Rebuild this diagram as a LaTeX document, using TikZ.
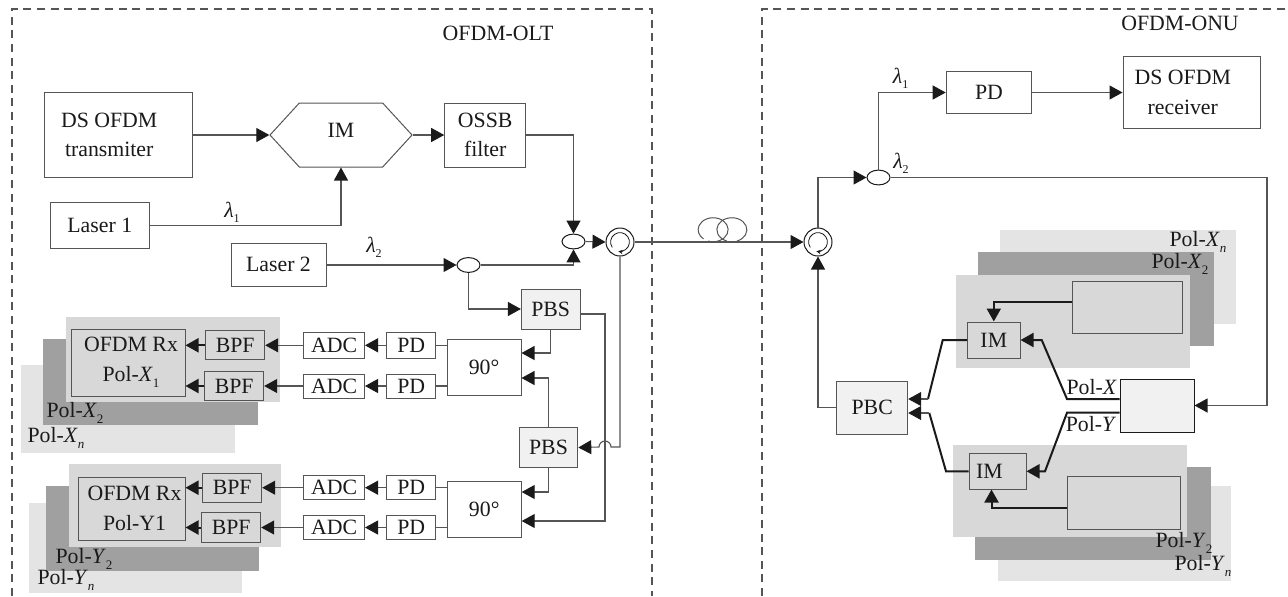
\documentclass[tikz,border=0pt]{standalone}
\usepackage{xcolor}
\usepackage{fontspec}
\setmainfont{Liberation Serif}
\usepackage{tikz}
\usetikzlibrary{arrows.meta,calc,positioning,shapes.geometric,shapes.symbols}
\definecolor{OpticLine}{HTML}{555555}
\definecolor{OpticInk}{HTML}{1A1A1A}
\definecolor{PlateFront}{HTML}{D8D8D8}
\definecolor{PlateMid}{HTML}{A0A0A0}
\definecolor{PlateBack}{HTML}{E4E4E4}
\definecolor{PaleBox}{HTML}{F1F1F1}
\newcommand{\polsub}[2]{Pol-\textit{#1}\raisebox{-3pt}{\fontsize{6.5}{7}\selectfont #2}}
\newcommand{\lamsub}[1]{\textit{λ}\raisebox{-2.5pt}{\fontsize{6}{7}\selectfont #1}}
\newcommand{\circmark}[1]{\draw[-{Stealth[length=2.2pt,width=2.2pt]},line width=.4pt,draw=OpticInk]
  ([shift={(215:4.7pt)}]#1.center) arc[start angle=215,end angle=-100,radius=4.7pt];}

\begin{document}
\begin{tikzpicture}[
  x=.5pt,y=-.5pt,
  every node/.style={text=OpticInk,font=\fontsize{10.9}{14.8}\selectfont},
  box/.style={draw=OpticLine,line width=.5pt,fill=white,inner sep=0pt,align=center},
  palebox/.style={box,fill=PaleBox},
  greybox/.style={box,fill=PlateFront},
  pdbox/.style={box,minimum width=24.6pt,minimum height=12pt},
  adcbox/.style={box,minimum width=30.4pt,minimum height=12pt},
  bpfbox/.style={greybox,minimum width=29.5pt,minimum height=14.6pt},
  phasebox/.style={box,minimum width=37pt,minimum height=28pt},
  pbsbox/.style={palebox,minimum width=29.3pt,minimum height=20pt},
  coupler/.style={draw=OpticInk,line width=.5pt,fill=white,ellipse,inner sep=0pt,
    minimum width=11.5pt,minimum height=7.4pt},
  circulator/.style={draw=OpticInk,line width=.5pt,fill=white,circle,inner sep=0pt,minimum size=14pt},
  frame/.style={draw=OpticLine,line width=.7pt,dash pattern=on 4pt off 2.8pt},
  link/.style={draw=OpticLine,line width=.55pt},
  arrow/.style={link,-{Triangle[length=6.5pt,width=7pt,color=OpticInk]}},
  heavy/.style={draw=OpticInk,line width=1pt},
  heavyarrow/.style={heavy,-{Triangle[length=6.5pt,width=7pt]}},
  plateA/.style={fill=PlateFront},
  plateB/.style={fill=PlateMid},
  plateC/.style={fill=PlateBack}
]
\useasboundingbox (0,0) rectangle (1288,596);
% dashed housings
\draw[frame] (12,596) -- (12,9) -- (652,9) -- (652,596);
\draw[frame] (762,596) -- (762,9) -- (1286,9);
\node (olt) at (498,33) {OFDM-OLT};
\node (onu) at (1180,23) {OFDM-ONU};

% stacked plates
\fill[plateC] (21,365) rectangle (235,453);
\fill[plateB] (43,339) rectangle (258,425);
\fill[plateA] (66,317) rectangle (279.5,402);
\fill[plateC] (29,503) rectangle (242,593);
\fill[plateB] (46,486) rectangle (259,571);
\fill[plateA] (69,464) rectangle (281,547);
\fill[plateC] (1000,230) rectangle (1235.7,324);
\fill[plateB] (977.7,252) rectangle (1213.7,346);
\fill[plateA] (956,275) rectangle (1190,367.7);
\fill[plateC] (998,486) rectangle (1231,581);
\fill[plateB] (975,466.7) rectangle (1210.7,560);
\fill[plateA] (953,444.7) rectangle (1187,537);

% transmitter side
\node[box,minimum width=73.8pt,minimum height=42.3pt] (txofdm) at (118.2,134.7)
  {\hspace*{-9pt}DS OFDM\\\hspace*{-9pt}transmiter};
\node[signal,signal to=east and west,signal pointer angle=95,draw=OpticLine,line width=.5pt,
  fill=white,inner sep=0pt,text depth=5pt,minimum width=71pt,minimum height=32pt] (imod) at (341,135) {IM};
\node[box,minimum width=40.5pt,minimum height=32pt] (ossb) at (485.2,135) {OSSB\\filter};
\node[box,minimum width=49.8pt,minimum height=23.2pt] (laserA) at (99.8,225.2) {Laser 1};
\node[box,minimum width=47.5pt,minimum height=21.5pt] (laserB) at (278.5,264.5) {Laser 2};
\node (lamA) at (232,212) {\lamsub{1}};
\node (lamB) at (374,247) {\lamsub{2}};
\node[coupler] (splitA) at (468.5,265) {};
\node[coupler] (mergeA) at (573.5,241.5) {};
\node[circulator] (circA) at (620,242) {};
\circmark{circA}

% coherent receiver rows
\node[pbsbox] (pbsA) at (550.7,309) {PBS};
\node[pbsbox] (pbsB) at (548.5,447.5) {PBS};
\node[phasebox] (phaseA) at (484,367.2) {90°};
\node[phasebox] (phaseB) at (484.2,509) {90°};
\node[pdbox,minimum height=13.3pt] (pdA) at (411.3,345.3) {PD};
\node[pdbox] (pdB) at (411.3,386) {PD};
\node[pdbox] (pdC) at (411.3,487.7) {PD};
\node[pdbox] (pdD) at (411.3,527.5) {PD};
\node[adcbox,minimum height=13.3pt,left=10.6pt of pdA] (adcA) {ADC};
\node[adcbox,left=10.6pt of pdB] (adcB) {ADC};
\node[adcbox,left=10.6pt of pdC] (adcC) {ADC};
\node[adcbox,left=10.6pt of pdD] (adcD) {ADC};
\node[bpfbox,left=19pt of adcA] (bpfA) {BPF};
\node[bpfbox,left=19.5pt of adcB] (bpfB) {BPF};
\node[bpfbox,left=20.5pt of adcC] (bpfC) {BPF};
\node[bpfbox,left=21pt of adcD] (bpfD) {BPF};
\node[greybox,minimum width=57pt,minimum height=33.5pt] (rxX) at (128,362.5)
  {\hspace*{3pt}OFDM Rx\\\hspace*{3pt}Pol-\textit{X}\raisebox{-3pt}{\fontsize{6.5}{7}\selectfont 1}};
\node[greybox,minimum width=53.5pt,minimum height=31.5pt] (rxY) at (131.5,508.5)
  {\hspace*{3pt}OFDM Rx\\\hspace*{3pt}Pol-Y1};
\node (polXb) at (75,413) {\polsub{X}{2}};
\node (polXn) at (56,438) {\polsub{X}{\textit{n}}};
\node (polYb) at (84,559) {\polsub{Y}{2}};
\node (polYn) at (66,580) {\polsub{Y}{\textit{n}}};

% ONU side
\node[circulator] (circB) at (818,242) {};
\circmark{circB}
\node[coupler] (splitB) at (878.5,177.5) {};
\node (lamC) at (900.7,78) {\lamsub{1}};
\node (lamD) at (901,163) {\lamsub{2}};
\node[box,minimum width=42.8pt,minimum height=21.3pt] (pdE) at (989,92.5) {PD};
\node[box,minimum width=68.8pt,minimum height=36pt] (rxofdm) at (1191.8,92.5) {\hspace*{-9pt}DS OFDM\\\hspace*{-9pt}receiver};
\node[palebox,minimum width=35.5pt,minimum height=26.5pt] (pbc) at (872.2,407.5) {PBC};
\node[palebox,draw=OpticInk,minimum width=37pt,minimum height=26.5pt] (polsplit) at (1157,405.5) {};
\node[greybox,minimum width=26.2pt,minimum height=18pt] (imX) at (993.8,340) {IM};
\node[greybox,minimum width=28.5pt,minimum height=17.7pt] (imY) at (997.5,471.3) {\hspace*{-8pt}IM};
\node[greybox,minimum width=55pt,minimum height=25.7pt] (drvX) at (1127,307.3) {};
\node[greybox,minimum width=56.5pt,minimum height=26.5pt] (drvY) at (1123.5,503.2) {};
\node (polX) at (1091.7,386.7) {Pol-\textit{X}};
\node (polY) at (1091,424) {Pol-\textit{Y}};
\node (polXtwo) at (1180,264) {\polsub{X}{2}};
\node (polXtop) at (1198,241.7) {\polsub{X}{\textit{n}}};
\node (polYtwo) at (1184,543) {\polsub{Y}{2}};
\node (polYlow) at (1203,566) {\polsub{Y}{\textit{n}}};

% connectors, OLT
\draw[arrow] (txofdm.east |- imod.west) -- (imod.west);
\draw[arrow] (imod.east) -- (ossb.west);
\draw[arrow] (laserA.east) -| (imod.south);
\draw[arrow] (laserB.east |- splitA.west) -- (splitA.west);
\draw[arrow] (ossb.east) -| (mergeA.north);
\draw[arrow] (splitA.east) -| (mergeA.south);
\draw[arrow] (mergeA.east) -- (circA.west);
\draw[arrow] (splitA.south) |- (pbsA.west);
\draw[arrow] (pbsA.south) |- ([yshift=7.1pt]phaseA.east);
\draw[arrow] (pbsB.north) |- ([yshift=-5.4pt]phaseA.east);
\draw[arrow] (pbsB.south) |- ([yshift=8.5pt]phaseB.east);
\draw[arrow] ([yshift=-2.5pt]pbsA.east) -| (605,400) |- ([yshift=-6pt]phaseB.east);
\draw[arrow] (circA.south) |- (611,447) arc[start angle=0,end angle=180,radius=3pt] -- (pbsB.east);
\draw[link] (pdA.east) -- (pdA.east -| phaseA.west);
\draw[link] (pdB.east) -- (pdB.east -| phaseA.west);
\draw[link] (pdC.east) -- (pdC.east -| phaseB.west);
\draw[link] (pdD.east) -- (pdD.east -| phaseB.west);
\draw[arrow] (pdA.west) -- (adcA.east);
\draw[arrow] (pdB.west) -- (adcB.east);
\draw[arrow] (pdC.west) -- (adcC.east);
\draw[arrow] (pdD.west) -- (adcD.east);
\draw[arrow] (adcA.west) -- (bpfA.east);
\draw[arrow] (adcB.west) -- (bpfB.east);
\draw[arrow] (adcC.west) -- (bpfC.east);
\draw[arrow] (adcD.west) -- (bpfD.east);
\draw[heavyarrow] (bpfA.west) -- (bpfA.west -| rxX.east);
\draw[heavyarrow] (bpfB.west) -- (bpfB.west -| rxX.east);
\draw[heavyarrow] (bpfC.west) -- (bpfC.west -| rxY.east);
\draw[heavyarrow] (bpfD.west) -- (bpfD.west -| rxY.east);

% fibre span
\draw[arrow] (circA.east) -- (circB.west);
\draw[link,line width=.5pt] (708,241) arc[start angle=-110,end angle=230,x radius=7.5pt,y radius=6pt];
\draw[link,line width=.5pt] (737,241) arc[start angle=-70,end angle=250,x radius=7.5pt,y radius=6pt];

% connectors, ONU
\draw[arrow] (circB.north) |- (splitB.west);
\draw[arrow] (splitB.north) |- (pdE.west);
\draw[arrow] (pdE.east) -- (rxofdm.west);
\draw[arrow] (splitB.east) -| (1267,300) |- (polsplit.east);
\draw[arrow] (pbc.west) -| (circB.south);
\draw[heavyarrow] ([yshift=3.25pt]polsplit.west) -- (1067,399) -- (1041.7,340) -- (imX.east);
\draw[heavyarrow] ([yshift=-3.6pt]polsplit.west) -- (1067,412.7) -- (1045,471.3) -- (imY.east);
\draw[heavyarrow] ([yshift=2.5pt]drvX.west) -| (imX.north);
\draw[heavyarrow] ([yshift=-2.5pt]drvY.west) -| ([xshift=-3pt]imY.south);
\coordinate (pbcTop) at (928,399);
\coordinate (pbcLow) at (929.3,413);
\draw[heavy] (imX.west) -- (942.7,340) -- (pbcTop);
\draw[heavy] (imY.west) -- (946,471.3) -- (pbcLow);
\draw[arrow] (pbcTop) -- ([yshift=4.25pt]pbc.east);
\draw[arrow] (pbcLow) -- ([yshift=-2.75pt]pbc.east);
\end{tikzpicture}
\end{document}
